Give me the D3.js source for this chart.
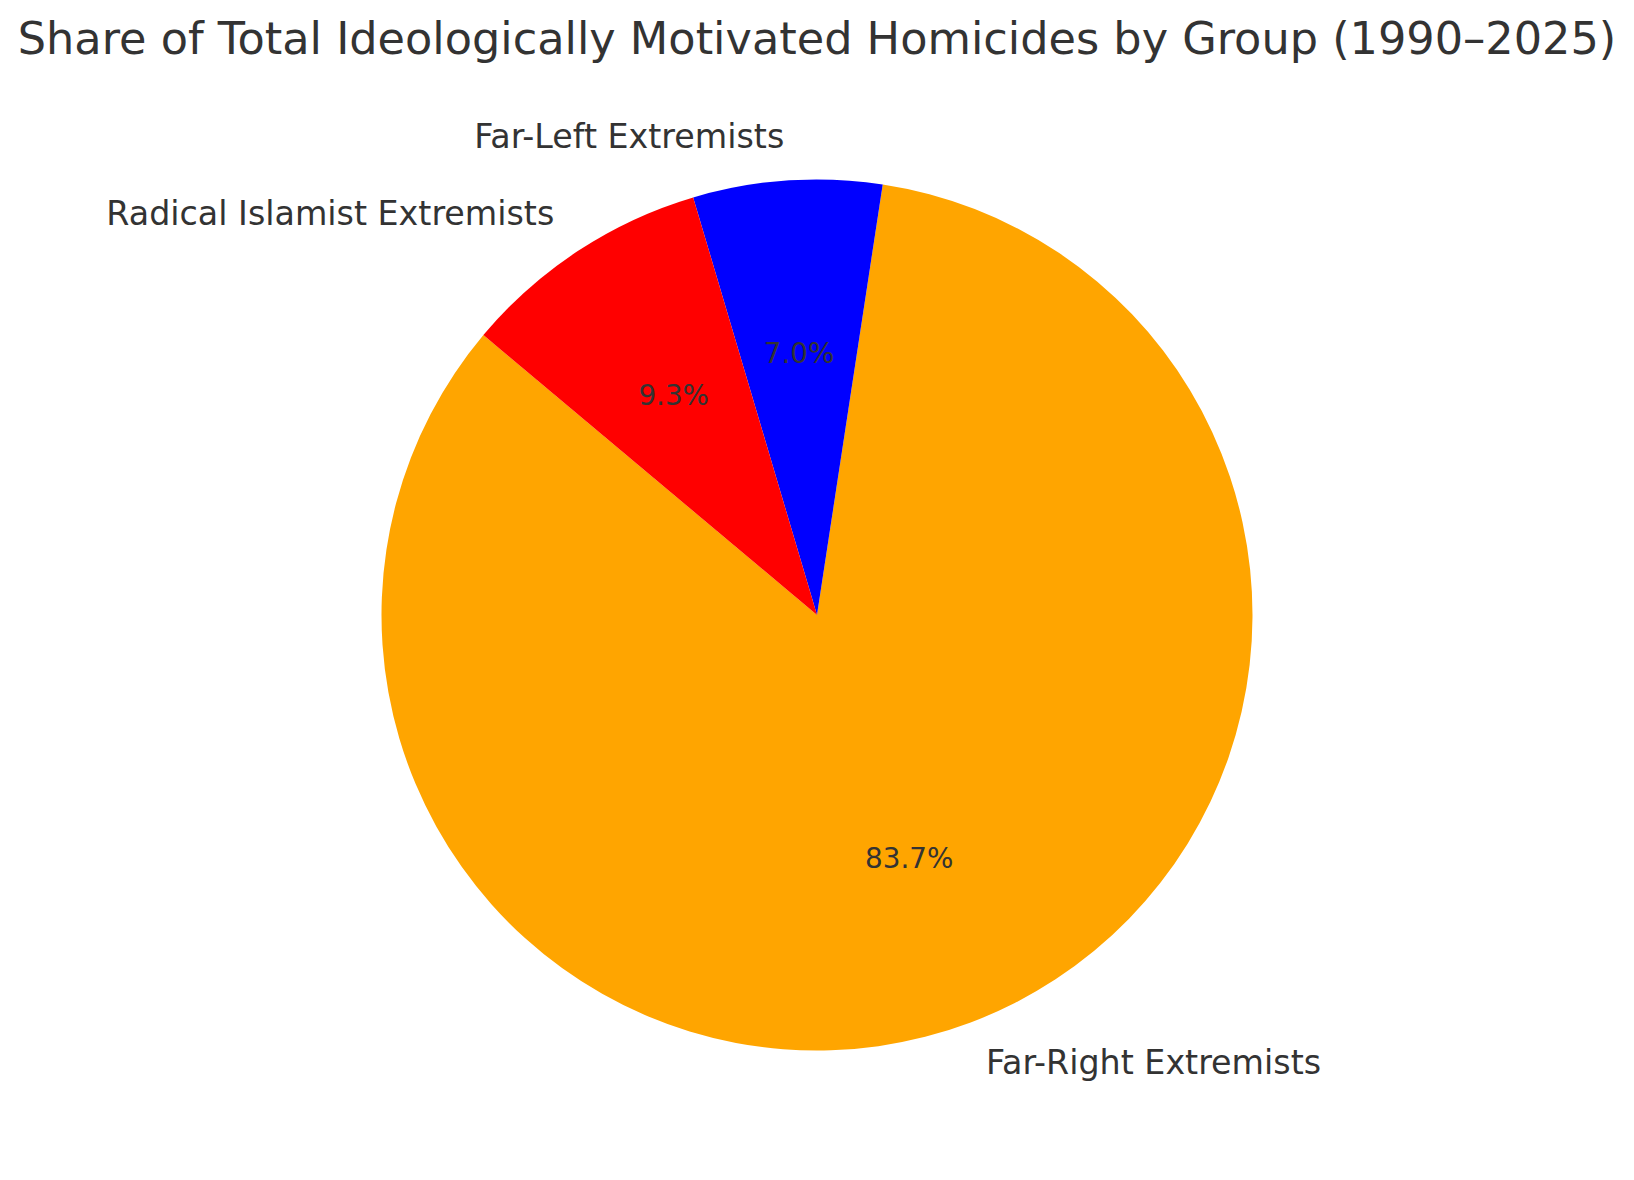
<!DOCTYPE html>
<html>
<head>
<meta charset="utf-8">
<title>Share of Total Ideologically Motivated Homicides by Group</title>
<script src="https://cdn.jsdelivr.net/npm/d3@7"></script>
<style>
    html, body { margin: 0; padding: 0; background: #fff; }
    svg { display: block; }
    text { font-family: "DejaVu Sans", sans-serif; fill: #333333; }
</style>
</head>
<body>
<div class="content"></div>
<script>
// data (percent of total), in drawing order
var groups = ["Far-Right Extremists", "Far-Left Extremists", "Radical Islamist Extremists"];
var shares = [83.7, 7.0, 9.3];
var sliceColors = ["orange", "blue", "red"];
var chartTitle = "Share of Total Ideologically Motivated Homicides by Group (1990\u20132025)";

(function (window) {
    'use strict';
    var opts = {
            width: 1634,
            height: 1180,
            cx: 817,
            cy: 615,
            radius: 435.5,
            startAngle: 140,      // degrees, counter-clockwise from 3 o'clock
            labelDistance: 1.1,
            pctDistance: 0.6,
            titleSize: 44.6,
            labelSize: 33.3,
            pctSize: 27.8
        },
        rad = Math.PI / 180;

    function createBoard() {
        return d3.select(".content").append("svg")
            .attr("width", opts.width)
            .attr("height", opts.height)
            .attr("viewBox", [0, 0, opts.width, opts.height]);
    }

    function addText(el, x, y, txt, size, anchor) {
        return el.append("text")
            .text(txt)
            .attr("x", x)
            .attr("y", y)
            .attr("font-size", size)
            .attr("text-anchor", anchor || "middle");
    }

    // point at a fraction of the radius along the slice mid angle
    function polar(d, frac) {
        var a = (d.startAngle + d.endAngle) / 2,
            r = opts.radius * frac;
        return {x: opts.cx + r * Math.sin(a), y: opts.cy - r * Math.cos(a), side: Math.sin(a)};
    }

    function drawPie(board) {
        var total = d3.sum(shares),
            start = (90 - opts.startAngle) * rad,
            pie = d3.pie().sort(null).value(function (d) { return d; })
                .startAngle(start).endAngle(start - 2 * Math.PI),
            arc = d3.arc().innerRadius(0).outerRadius(opts.radius),
            fmt = d3.format(".1f"),
            slices = pie(shares),
            g = board.append("g");

        g.selectAll("path.slice").data(slices).enter().append("path")
            .attr("class", "slice")
            .attr("transform", "translate(" + [opts.cx, opts.cy] + ")")
            .attr("d", arc)
            .attr("fill", function (d, i) { return sliceColors[i]; });

        slices.forEach(function (d, i) {
            var lp = polar(d, opts.labelDistance),
                pp = polar(d, opts.pctDistance);
            addText(g, lp.x, lp.y + opts.labelSize * 0.33, groups[i], opts.labelSize,
                lp.side > 0 ? "start" : "end");
            addText(g, pp.x, pp.y + opts.pctSize * 0.32, fmt(d.value / total * 100) + "%", opts.pctSize);
        });
    }

    var board = createBoard();
    addText(board, opts.cx, 54, chartTitle, opts.titleSize);
    drawPie(board);
}(window));
</script>
</body>
</html>
